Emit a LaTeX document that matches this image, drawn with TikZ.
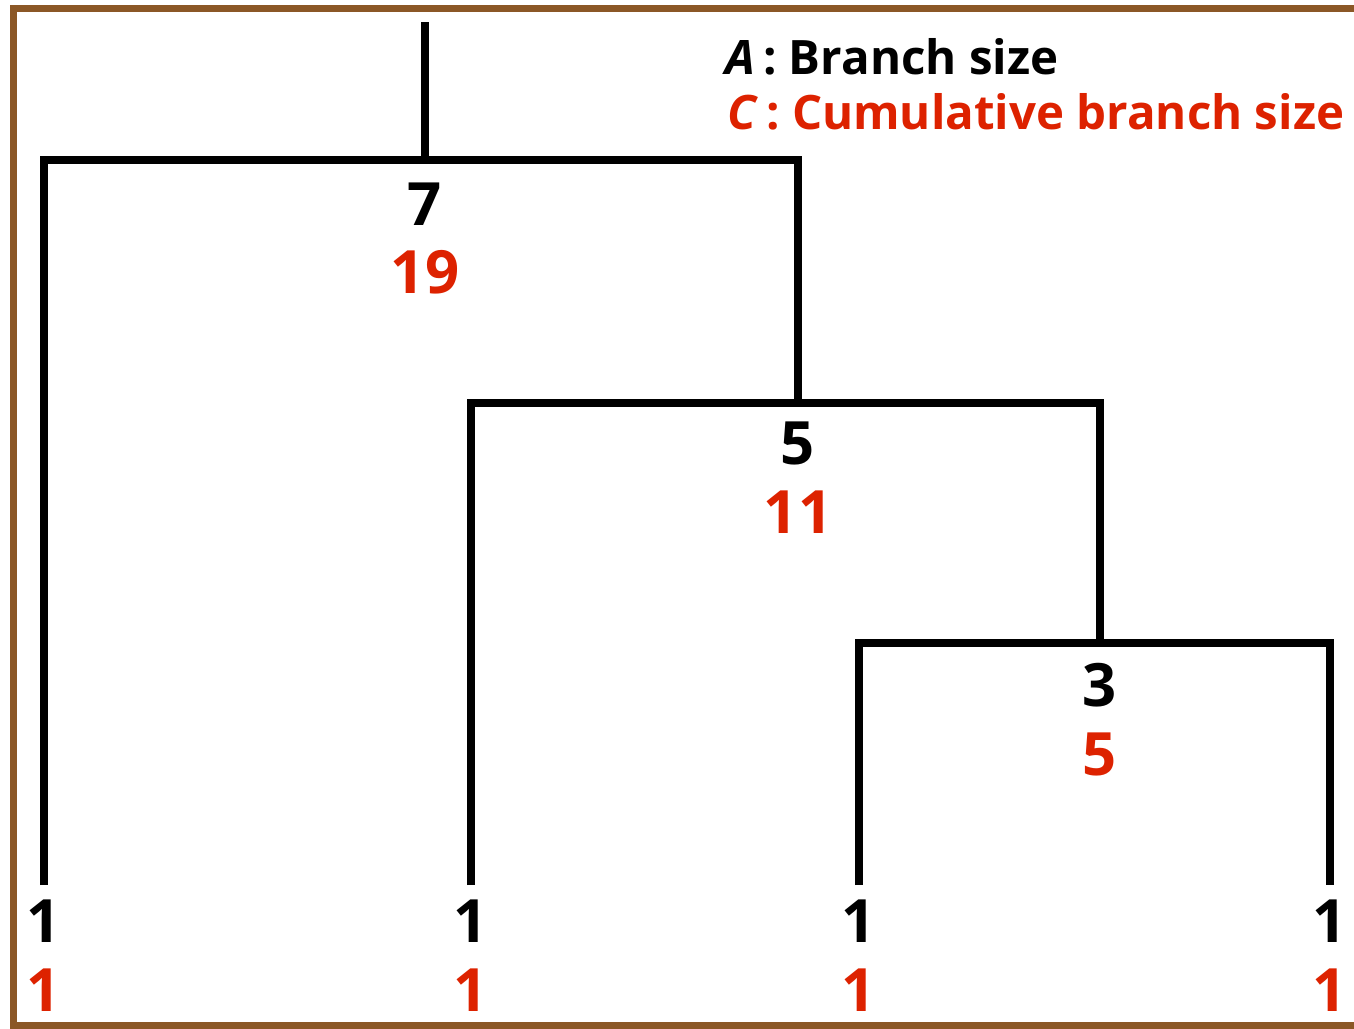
\documentclass[tikz,border=0pt]{standalone}
\usepackage{fontspec}
\setmainfont{Open Sans}
\definecolor{cred}{RGB}{221,34,0}
\definecolor{cbrown}{RGB}{139,87,38}
\begin{document}
\begin{tikzpicture}[x=0.02cm,y=-0.02cm,
  branch/.style={line width=0.16cm,black,line join=miter},
  asize/.style={font=\fontsize{34}{34}\selectfont\bfseries,text=black,inner sep=0pt,anchor=base},
  csize/.style={font=\fontsize{34}{34}\selectfont\bfseries,text=cred,inner sep=0pt,anchor=base},
  legend/.style={font=\fontsize{27}{27}\selectfont\bfseries,inner sep=0pt,anchor=base west}]
\useasboundingbox (0,0) rectangle (1354,1028);
\draw[cbrown,line width=0.14cm] (1360,8.5) -- (13.5,8.5) -- (13.5,1025) -- (1360,1025);
\coordinate (top) at (425,22);
\coordinate (j7) at (425,160);
\coordinate (j5) at (798,403);
\coordinate (j3) at (1100,643);
\coordinate (L1) at (44,885);
\coordinate (L2) at (471,885);
\coordinate (L3) at (859,885);
\coordinate (L4) at (1330,885);
\draw[branch] (top) -- (j7);
\draw[branch] (L1) |- (j7) -| (j5);
\draw[branch] (L2) |- (j5) -| (j3);
\draw[branch] (L3) |- (j3) -| (L4);
\node[asize] (a7) at (425,225) {7};
\node[csize] (c7) at (425,293) {19};
\node[asize] (a5) at (798,464) {5};
\node[csize] (c5) at (798,533) {11};
\node[asize] (a3) at (1100,706) {3};
\node[csize] (c3) at (1100,775) {5};
\node[asize] (a1) at (44,942) {1};
\node[csize] (c1) at (44,1011) {1};
\node[asize] (a2) at (471,942) {1};
\node[csize] (c2) at (471,1011) {1};
\node[asize] (a4) at (859,942) {1};
\node[csize] (c4) at (859,1011) {1};
\node[asize] (a6) at (1330,942) {1};
\node[csize] (c6) at (1330,1011) {1};
\node[legend,text=black] (lA) at (725,74) {\textit{A}\,: Branch size};
\node[legend,text=cred] (lC) at (727,129) {\textit{C}\,: Cumulative branch size};
\end{tikzpicture}
\end{document}
